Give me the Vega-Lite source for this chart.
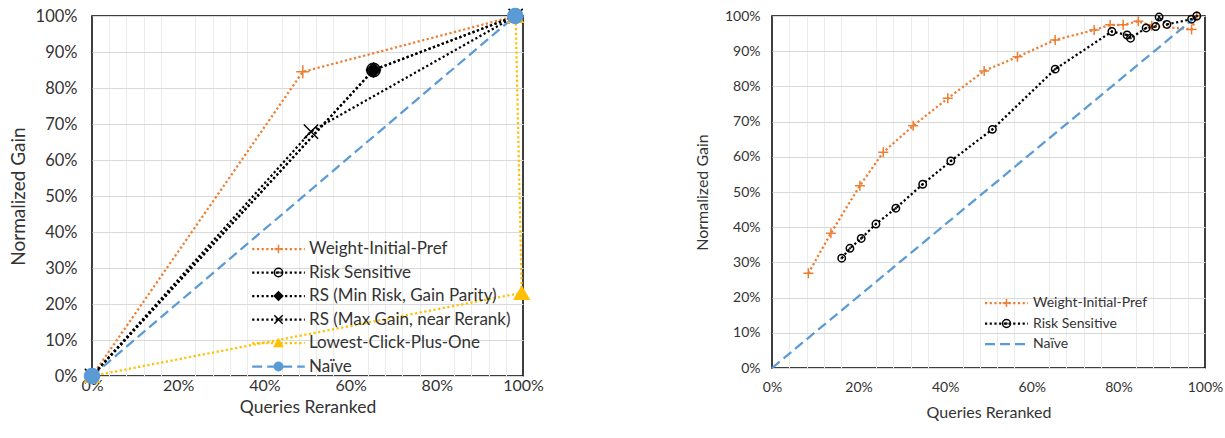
{
  "$schema": "https://vega.github.io/schema/vega-lite/v6.json",
  "padding": {"left": 8, "top": 4, "right": 0, "bottom": 0},
  "spacing": 249,
  "bounds": "flush",
  "datasets": {
    "left": [
      {"series": "Weight-Initial-Pref", "x": 0, "y": 0, "ord": 1},
      {"series": "Weight-Initial-Pref", "x": 0.489, "y": 0.845, "ord": 2},
      {"series": "Weight-Initial-Pref", "x": 0.983, "y": 1.0, "ord": 3},
      {"series": "Risk Sensitive", "x": 0, "y": 0, "ord": 1},
      {"series": "Risk Sensitive", "x": 0.653, "y": 0.85, "ord": 2},
      {"series": "Risk Sensitive", "x": 0.983, "y": 1.0, "ord": 3},
      {"series": "RS (Min Risk, Gain Parity)", "x": 0, "y": 0, "ord": 1},
      {"series": "RS (Min Risk, Gain Parity)", "x": 0.653, "y": 0.85, "ord": 2},
      {"series": "RS (Min Risk, Gain Parity)", "x": 0.983, "y": 1.0, "ord": 3},
      {"series": "RS (Max Gain, near Rerank)", "x": 0, "y": 0, "ord": 1},
      {"series": "RS (Max Gain, near Rerank)", "x": 0.508, "y": 0.679, "ord": 2},
      {"series": "RS (Max Gain, near Rerank)", "x": 0.983, "y": 1.0, "ord": 3},
      {"series": "Lowest-Click-Plus-One", "x": 0, "y": 0, "ord": 1},
      {"series": "Lowest-Click-Plus-One", "x": 0.997, "y": 0.231, "ord": 2},
      {"series": "Lowest-Click-Plus-One", "x": 0.983, "y": 1.0, "ord": 3},
      {"series": "Naïve", "x": 0, "y": 0, "ord": 1},
      {"series": "Naïve", "x": 0.982, "y": 1.0, "ord": 2}
    ],
    "right": [
      {"series": "Weight-Initial-Pref", "x": 0.084, "y": 0.269, "ord": 1},
      {"series": "Weight-Initial-Pref", "x": 0.136, "y": 0.383, "ord": 2},
      {"series": "Weight-Initial-Pref", "x": 0.203, "y": 0.518, "ord": 3},
      {"series": "Weight-Initial-Pref", "x": 0.257, "y": 0.613, "ord": 4},
      {"series": "Weight-Initial-Pref", "x": 0.326, "y": 0.688, "ord": 5},
      {"series": "Weight-Initial-Pref", "x": 0.406, "y": 0.766, "ord": 6},
      {"series": "Weight-Initial-Pref", "x": 0.49, "y": 0.844, "ord": 7},
      {"series": "Weight-Initial-Pref", "x": 0.567, "y": 0.884, "ord": 8},
      {"series": "Weight-Initial-Pref", "x": 0.654, "y": 0.932, "ord": 9},
      {"series": "Weight-Initial-Pref", "x": 0.744, "y": 0.96, "ord": 10},
      {"series": "Weight-Initial-Pref", "x": 0.781, "y": 0.975, "ord": 11},
      {"series": "Weight-Initial-Pref", "x": 0.811, "y": 0.975, "ord": 12},
      {"series": "Weight-Initial-Pref", "x": 0.846, "y": 0.985, "ord": 13},
      {"series": "Weight-Initial-Pref", "x": 0.877, "y": 0.972, "ord": 14},
      {"series": "Weight-Initial-Pref", "x": 0.969, "y": 0.962, "ord": 15},
      {"series": "Weight-Initial-Pref", "x": 0.981, "y": 1.0, "ord": 16},
      {"series": "Risk Sensitive", "x": 0.161, "y": 0.312, "ord": 1},
      {"series": "Risk Sensitive", "x": 0.18, "y": 0.34, "ord": 2},
      {"series": "Risk Sensitive", "x": 0.206, "y": 0.368, "ord": 3},
      {"series": "Risk Sensitive", "x": 0.24, "y": 0.409, "ord": 4},
      {"series": "Risk Sensitive", "x": 0.286, "y": 0.454, "ord": 5},
      {"series": "Risk Sensitive", "x": 0.348, "y": 0.522, "ord": 6},
      {"series": "Risk Sensitive", "x": 0.413, "y": 0.588, "ord": 7},
      {"series": "Risk Sensitive", "x": 0.509, "y": 0.678, "ord": 8},
      {"series": "Risk Sensitive", "x": 0.654, "y": 0.849, "ord": 9},
      {"series": "Risk Sensitive", "x": 0.785, "y": 0.956, "ord": 10},
      {"series": "Risk Sensitive", "x": 0.82, "y": 0.946, "ord": 11},
      {"series": "Risk Sensitive", "x": 0.828, "y": 0.937, "ord": 12},
      {"series": "Risk Sensitive", "x": 0.864, "y": 0.966, "ord": 13},
      {"series": "Risk Sensitive", "x": 0.886, "y": 0.97, "ord": 14},
      {"series": "Risk Sensitive", "x": 0.894, "y": 0.997, "ord": 15},
      {"series": "Risk Sensitive", "x": 0.912, "y": 0.976, "ord": 16},
      {"series": "Risk Sensitive", "x": 0.969, "y": 0.991, "ord": 17},
      {"series": "Risk Sensitive", "x": 0.981, "y": 1.0, "ord": 18},
      {"series": "Naïve", "x": 0, "y": 0, "ord": 1},
      {"series": "Naïve", "x": 0.981, "y": 1.0, "ord": 2}
    ]
  },
  "hconcat": [
    {
      "width": 431,
      "height": 360,
      "data": {"name": "left"},
      "layer": [
        {
          "mark": {"type": "line", "strokeWidth": 2.25, "strokeJoin": "round"},
          "encoding": {
            "x": {"field": "x", "type": "quantitative", "scale": {"domain": [0, 1], "nice": false, "zero": false},
              "axis": {"orient": "bottom", "values": [0.04, 0.08, 0.12, 0.16, 0.24, 0.28, 0.32, 0.36, 0.44, 0.48, 0.52, 0.56, 0.64, 0.68, 0.72, 0.76, 0.84, 0.88, 0.92, 0.96], "labels": false, "title": null, "gridColor": "#ececec"}},
            "y": {"field": "y", "type": "quantitative", "scale": {"domain": [0, 1], "nice": false},
              "axis": {"values": [0, 0.1, 0.2, 0.3, 0.4, 0.5, 0.6, 0.7, 0.8, 0.9, 1], "format": ".0%", "labelFontSize": 16.5, "labelPadding": 15, "title": "Normalized Gain", "titleFontSize": 19, "titlePadding": 7}},
            "order": {"field": "ord"},
            "stroke": {"field": "series", "type": "nominal",
              "scale": {"domain": ["Weight-Initial-Pref", "Risk Sensitive", "RS (Min Risk, Gain Parity)", "RS (Max Gain, near Rerank)", "Lowest-Click-Plus-One", "Naïve"], "range": ["#ED7D31", "#000000", "#000000", "#000000", "#FFC000", "#5B9BD5"]},
              "legend": {"orient": "none", "legendX": 178, "legendY": 224.5, "title": null, "symbolType": "M-8.77,0H8.77", "symbolSize": 36, "symbolStrokeWidth": 2.25, "labelFontSize": 17, "labelOffset": 22, "rowPadding": 5.5, "padding": 0}},
            "strokeDash": {"field": "series", "type": "nominal",
              "scale": {"domain": ["Weight-Initial-Pref", "Risk Sensitive", "RS (Min Risk, Gain Parity)", "RS (Max Gain, near Rerank)", "Lowest-Click-Plus-One", "Naïve"], "range": [[2.2, 2.5], [2.2, 2.5], [2.2, 2.5], [2.2, 2.5], [2.2, 2.5], [10, 5]]}}
          }
        },
        {
          "mark": {"type": "point", "opacity": 1, "strokeWidth": 1.5},
          "encoding": {
            "x": {"field": "x", "type": "quantitative",
              "axis": {"orient": "bottom", "values": [0, 0.2, 0.4, 0.6, 0.8, 1], "format": ".0%", "labelFontSize": 16, "labelPadding": 1, "title": "Queries Reranked", "titleFontSize": 17.5, "titlePadding": 5}},
            "y": {"field": "y", "type": "quantitative",
              "axis": {"values": [0, 0.1, 0.2, 0.3, 0.4, 0.5, 0.6, 0.7, 0.8, 0.9, 1], "format": ".0%", "labelFontSize": 16.5, "labelPadding": 15, "title": "Normalized Gain", "titleFontSize": 19, "titlePadding": 7}},
            "fill": {"field": "series", "type": "nominal",
              "scale": {"domain": ["Weight-Initial-Pref", "Risk Sensitive", "RS (Min Risk, Gain Parity)", "RS (Max Gain, near Rerank)", "Lowest-Click-Plus-One", "Naïve"], "range": ["transparent", "transparent", "#000000", "transparent", "#FFC000", "#5B9BD5"]}},
            "stroke": {"field": "series", "type": "nominal"},
            "shape": {"field": "series", "type": "nominal",
              "scale": {"domain": ["Weight-Initial-Pref", "Risk Sensitive", "RS (Min Risk, Gain Parity)", "RS (Max Gain, near Rerank)", "Lowest-Click-Plus-One", "Naïve"], "range": ["M-1,0H1M0,-1V1", "M-1,0A1,1,0,1,0,1,0A1,1,0,1,0,-1,0ZM-0.12,0A0.12,0.12,0,1,0,0.12,0A0.12,0.12,0,1,0,-0.12,0Z", "diamond", "M-1,-1L1,1M-1,1L1,-1", "triangle-up", "circle"]},
              "legend": {"orient": "none", "legendX": 178, "legendY": 224.5, "title": null, "symbolSize": 70, "symbolStrokeWidth": 1.5, "labelFontSize": 17, "labelOffset": 22, "labelOpacity": 0, "rowPadding": 5.5, "padding": 0}},
            "size": {"field": "series", "type": "nominal", "legend": null,
              "scale": {"domain": ["Naïve", "Lowest-Click-Plus-One", "RS (Max Gain, near Rerank)", "RS (Min Risk, Gain Parity)", "Risk Sensitive", "Weight-Initial-Pref"], "range": [225, 169, 144, 120, 196, 150]}}
          }
        }
      ],
      "resolve": {"axis": {"x": "independent"}, "legend": {"stroke": "independent", "strokeDash": "independent", "fill": "independent", "shape": "independent", "size": "independent"}}
    },
    {
      "width": 433,
      "height": 352,
      "data": {"name": "right"},
      "layer": [
        {
          "mark": {"type": "line", "strokeWidth": 2.25, "strokeJoin": "round"},
          "encoding": {
            "x": {"field": "x", "type": "quantitative", "scale": {"domain": [0, 1], "nice": false, "zero": false},
              "axis": {"orient": "bottom", "values": [0.04, 0.08, 0.12, 0.16, 0.24, 0.28, 0.32, 0.36, 0.44, 0.48, 0.52, 0.56, 0.64, 0.68, 0.72, 0.76, 0.84, 0.88, 0.92, 0.96], "labels": false, "title": null, "gridColor": "#ececec"}},
            "y": {"field": "y", "type": "quantitative", "scale": {"domain": [0, 1], "nice": false},
              "axis": {"values": [0, 0.1, 0.2, 0.3, 0.4, 0.5, 0.6, 0.7, 0.8, 0.9, 1], "format": ".0%", "labelFontSize": 14, "labelPadding": 12, "title": "Normalized Gain", "titleFontSize": 16, "titlePadding": 14}},
            "order": {"field": "ord"},
            "stroke": {"field": "series", "type": "nominal",
              "scale": {"domain": ["Weight-Initial-Pref", "Risk Sensitive", "Naïve"], "range": ["#ED7D31", "#000000", "#5B9BD5"]},
              "legend": {"orient": "none", "legendX": 227.5, "legendY": 280, "title": null, "symbolType": "M-7.17,0H7.17", "symbolSize": 36, "symbolStrokeWidth": 2.25, "labelFontSize": 14, "labelOffset": 19.5, "rowPadding": 6.5, "padding": 0}},
            "strokeDash": {"field": "series", "type": "nominal",
              "scale": {"domain": ["Weight-Initial-Pref", "Risk Sensitive", "Naïve"], "range": [[2.2, 2.5], [2.2, 2.5], [10, 5]]}}
          }
        },
        {
          "mark": {"type": "point", "opacity": 1, "strokeWidth": 1.5},
          "encoding": {
            "x": {"field": "x", "type": "quantitative",
              "axis": {"orient": "bottom", "values": [0, 0.2, 0.4, 0.6, 0.8, 1], "format": ".0%", "labelFontSize": 14, "labelPadding": 12, "title": "Queries Reranked", "titleFontSize": 16, "titlePadding": 10}},
            "y": {"field": "y", "type": "quantitative",
              "axis": {"values": [0, 0.1, 0.2, 0.3, 0.4, 0.5, 0.6, 0.7, 0.8, 0.9, 1], "format": ".0%", "labelFontSize": 14, "labelPadding": 12, "title": "Normalized Gain", "titleFontSize": 16, "titlePadding": 14}},
            "fill": {"field": "series", "type": "nominal",
              "scale": {"domain": ["Weight-Initial-Pref", "Risk Sensitive", "Naïve"], "range": ["transparent", "transparent", "transparent"]}},
            "stroke": {"field": "series", "type": "nominal"},
            "shape": {"field": "series", "type": "nominal",
              "scale": {"domain": ["Weight-Initial-Pref", "Risk Sensitive", "Naïve"], "range": ["M-1,0H1M0,-1V1", "M-1,0A1,1,0,1,0,1,0A1,1,0,1,0,-1,0ZM-0.12,0A0.12,0.12,0,1,0,0.12,0A0.12,0.12,0,1,0,-0.12,0Z", "M0,0"]},
              "legend": {"orient": "none", "legendX": 227.5, "legendY": 280, "title": null, "symbolSize": 64, "symbolStrokeWidth": 1.5, "labelFontSize": 14, "labelOffset": 19.5, "labelOpacity": 0, "rowPadding": 6.5, "padding": 0}},
            "size": {"field": "series", "type": "nominal", "legend": null,
              "scale": {"domain": ["Naïve", "Risk Sensitive", "Weight-Initial-Pref"], "range": [10, 100, 121]}}
          }
        }
      ],
      "resolve": {"axis": {"x": "independent"}, "legend": {"stroke": "independent", "strokeDash": "independent", "fill": "independent", "shape": "independent", "size": "independent"}}
    }
  ],
  "resolve": {
    "scale": {"stroke": "independent", "strokeDash": "independent", "fill": "independent", "shape": "independent", "size": "independent"},
    "legend": {"stroke": "independent", "strokeDash": "independent", "fill": "independent", "shape": "independent", "size": "independent"}
  },
  "config": {
    "view": {"stroke": "#000000", "strokeWidth": 1.5},
    "font": "Lato",
    "axis": {"labelFont": "Lato", "titleFont": "Lato", "titleFontWeight": "normal", "labelColor": "#333333", "titleColor": "#333333", "ticks": false, "domain": false, "gridColor": "#d9d9d9", "gridWidth": 1, "labelFlush": false, "labelOverlap": false},
    "legend": {"labelFont": "Lato", "labelColor": "#333333", "labelLimit": 400}
  }
}
